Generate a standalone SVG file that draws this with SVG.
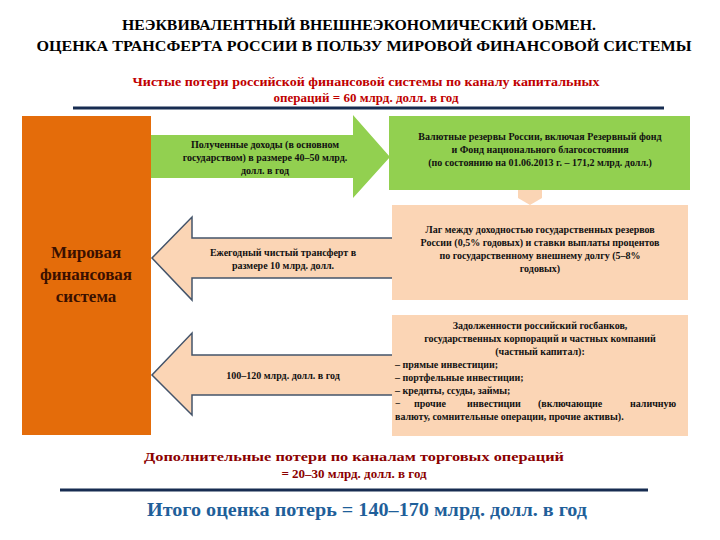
<svg xmlns="http://www.w3.org/2000/svg" width="720" height="540" viewBox="0 0 720 540">
<style>
text{font-family:"Liberation Serif","Times New Roman","DejaVu Serif",serif;font-weight:bold;text-anchor:middle}
.t{font-size:15px;fill:#000}
.r{font-size:13px;fill:#c00000}
.d{font-size:13px;fill:#8b0000}
.s{font-size:10px;fill:#111}
.l{text-anchor:start}
.peach{fill:#fbd5b5}
.ar{fill:#fbd5b5;stroke:#44546a;stroke-width:1.5}
.ln{stroke:#172c51;stroke-width:3}
</style>
<rect width="720" height="540" fill="#fff"/>
<g id="title">
<text class="t" x="359" y="30" textLength="474" lengthAdjust="spacingAndGlyphs">НЕЭКВИВАЛЕНТНЫЙ ВНЕШНЕЭКОНОМИЧЕСКИЙ ОБМЕН.</text>
<text class="t" x="364" y="51" textLength="655" lengthAdjust="spacingAndGlyphs">ОЦЕНКА ТРАНСФЕРТА РОССИИ В ПОЛЬЗУ МИРОВОЙ ФИНАНСОВОЙ СИСТЕМЫ</text>
<text class="r" x="366" y="86" textLength="467" lengthAdjust="spacingAndGlyphs">Чистые потери российской финансовой системы по каналу капитальных</text>
<text class="r" x="366" y="102">операций = 60 млрд. долл. в год</text>
<line class="ln" x1="73" y1="108" x2="664" y2="108"/>
</g>
<g id="world">
<rect x="22" y="116" width="129" height="319" fill="#e46c0a"/>
<text x="86" y="258" font-size="17" fill="#3a1000">Мировая</text>
<text x="86" y="280" font-size="17" fill="#3a1000">финансовая</text>
<text x="86" y="302" font-size="17" fill="#3a1000">система</text>
</g>
<g id="connectors">
<path d="M151,135 H353 V115 L390,157 L353,198 V178 H151 Z" fill="#92d050"/>
<text class="s" x="265" y="148">Полученные доходы (в основном</text>
<text class="s" x="265" y="161">государством) в размере 40–50 млрд.</text>
<text class="s" x="265" y="174">долл. в год</text>
<path class="ar" d="M392,238 H192 V217 L152,258 L192,300 V278 H392"/>
<text class="s" x="283" y="256">Ежегодный чистый трансферт в</text>
<text class="s" x="283" y="269">размере 10 млрд. долл.</text>
<path class="ar" d="M392,355 H192 V333 L152,375 L192,415 V395 H392"/>
<text class="s" x="283" y="379">100–120 млрд. долл. в год</text>
<path class="peach" d="M518,190 H542 V198 L530,205 L518,198 Z"/>
</g>
<g id="reserves">
<rect x="389" y="116" width="301" height="74" fill="#92d050"/>
<text class="s" x="540" y="140">Валютные резервы России, включая Резервный фонд</text>
<text class="s" x="540" y="153">и Фонд национального благосостояния</text>
<text class="s" x="540" y="166">(по состоянию на 01.06.2013 г. – 171,2 млрд. долл.)</text>
</g>
<g id="lag">
<rect class="peach" x="392" y="205" width="296" height="95"/>
<text class="s" x="540" y="233">Лаг между доходностью государственных резервов</text>
<text class="s" x="540" y="246">России (0,5% годовых) и ставки выплаты процентов</text>
<text class="s" x="540" y="259">по государственному внешнему долгу (5–8%</text>
<text class="s" x="540" y="272">годовых)</text>
</g>
<g id="debts">
<rect class="peach" x="392" y="315" width="296" height="121"/>
<text class="s" x="540" y="329">Задолженности российский госбанков,</text>
<text class="s" x="540" y="342">государственных корпораций и частных компаний</text>
<text class="s" x="540" y="355">(частный капитал):</text>
<text class="s l" x="395" y="368">– прямые инвестиции;</text>
<text class="s l" x="395" y="381">– портфельные инвестиции;</text>
<text class="s l" x="395" y="394">– кредиты, ссуды, займы;</text>
<text class="s l" x="395" y="407">−<tspan x="414">прочие</tspan><tspan x="467">инвестиции</tspan><tspan x="538">(включающие</tspan><tspan x="630">наличную</tspan></text>
<text class="s l" x="395" y="420">валюту, сомнительные операции, прочие активы).</text>
</g>
<g id="footer">
<text class="d" x="354" y="461" textLength="420" lengthAdjust="spacingAndGlyphs">Дополнительные потери по каналам торговых операций</text>
<text class="d" x="354" y="478">= 20–30 млрд. долл. в год</text>
<line class="ln" x1="60" y1="490" x2="648" y2="490"/>
<text x="367" y="516" font-size="19" fill="#1f5f9a" textLength="440" lengthAdjust="spacingAndGlyphs">Итого оценка потерь = 140–170 млрд. долл. в год</text>
</g>
</svg>
